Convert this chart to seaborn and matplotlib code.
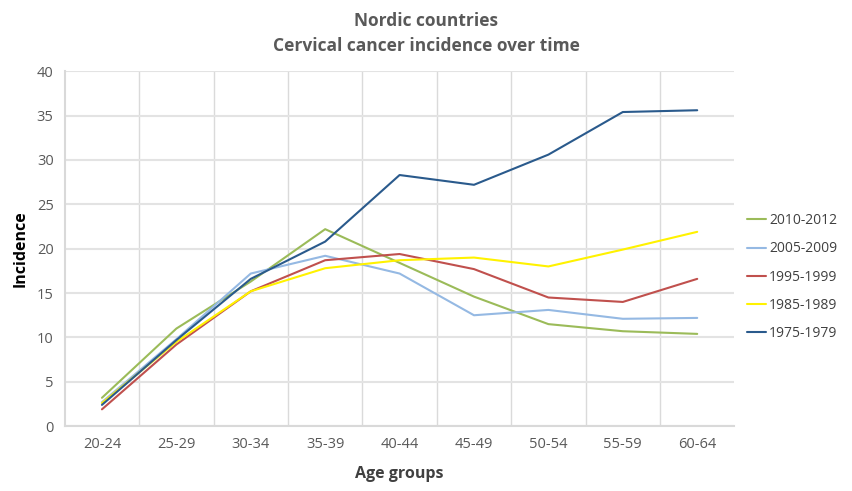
import matplotlib
matplotlib.use("Agg")
import matplotlib.pyplot as plt
import seaborn as sns
import pandas as pd
import numpy as np

# Datos
age_groups = ['20-24', '25-29', '30-34', '35-39', '40-44', '45-49', '50-54', '55-59', '60-64']
periods = ['2010-2012', '2005-2009', '1995-1999', '1985-1989', '1975-1979']

inc_2010_2012 = [3.2, 11.0, 16.3, 22.2, 18.4, 14.6, 11.5, 10.7, 10.4]
inc_2005_2009 = [2.7, 9.8, 17.2, 19.2, 17.2, 12.5, 13.1, 12.1, 12.2]
inc_1995_1999 = [1.9, 9.2, 15.2, 18.7, 19.4, 17.7, 14.5, 14.0, 16.6]
inc_1985_1989 = [2.6, 9.5, 15.2, 17.8, 18.7, 19.0, 18.0, 19.9, 21.9]
inc_1975_1979 = [2.4, 9.7, 16.6, 20.8, 28.3, 27.2, 30.6, 35.4, 35.6]

colors = ['#9BBB59', '#95B9E3', '#C0504D', '#FFF200', '#2A5A8C']

series = [inc_2010_2012, inc_2005_2009, inc_1995_1999, inc_1985_1989, inc_1975_1979]
rows = []
for p, vals in zip(periods, series):
    for i, v in enumerate(vals):
        rows.append({'Periodo': p, 'pos': i, 'Incidence': v})
df = pd.DataFrame(rows)

sns.set_theme(style='white')
plt.rcParams['font.family'] = ['Open Sans', 'DejaVu Sans']

fig = plt.figure(figsize=(8.52, 4.91), dpi=100)
ax = fig.add_axes([0.076, 0.132, 0.786, 0.723])

sns.lineplot(data=df, x='pos', y='Incidence', hue='Periodo', hue_order=periods,
             palette=colors, linewidth=1.5, ax=ax, legend=True)

# Rejilla estilo Excel
ax.set_xlim(-0.5, len(age_groups) - 0.5)
ax.set_ylim(0, 40)
ax.set_yticks(range(0, 41, 5))
ax.set_xticks(range(len(age_groups)))
ax.set_xticklabels(age_groups)
ax.set_xticks(np.arange(0.5, len(age_groups) - 0.5, 1), minor=True)
ax.grid(axis='y', which='major', color='#e3e3e3', linewidth=1.5)
ax.grid(axis='x', which='minor', color='#dadada', linewidth=1.0)
ax.grid(axis='x', which='major', visible=False)
ax.set_axisbelow(True)
ax.tick_params(axis='both', which='both', length=0, labelsize=10.5, colors='#595959', pad=8)

for s in ['top', 'right']:
    ax.spines[s].set_visible(False)
ax.spines['left'].set_color('#d9d9d9')
ax.spines['bottom'].set_color('#d9d9d9')
ax.spines['left'].set_linewidth(1.5)
ax.spines['bottom'].set_linewidth(1.5)

ax.set_xlabel('Age groups', fontsize=11.5, fontweight='bold', color='#404040', labelpad=10)
ax.set_ylabel('Incidence', fontsize=11.5, fontweight='bold', color='#000000', labelpad=6)

fig.text(0.5, 0.958, 'Nordic countries', ha='center', va='center',
         fontsize=12.5, fontweight='bold', color='#595959')
fig.text(0.5, 0.906, 'Cervical cancer incidence over time', ha='center', va='center',
         fontsize=12.5, fontweight='bold', color='#595959')

leg = ax.legend(loc='center left', bbox_to_anchor=(1.0, 0.42), frameon=False,
                fontsize=10, handlelength=1.4, handletextpad=0.2, labelspacing=0.95,
                borderaxespad=0.5)
for t in leg.get_texts():
    t.set_color('#404040')

fig.savefig('out.png', dpi=100)
